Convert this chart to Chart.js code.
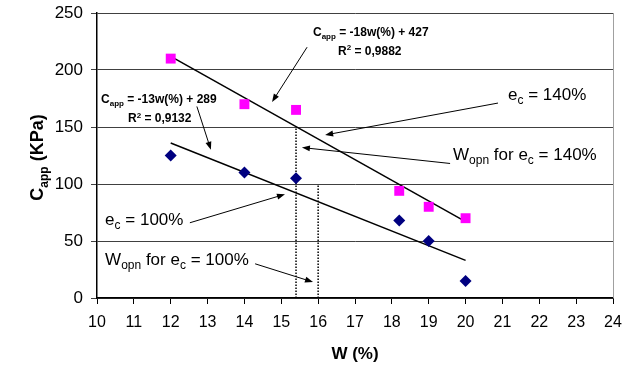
<!DOCTYPE html>
<html>
<head>
<meta charset="utf-8">
<script src="https://cdn.jsdelivr.net/npm/chart.js@4"></script>
<style>
  html, body { margin: 0; padding: 0; background: #fff; }
  #wrap { width: 628px; height: 365px; }
</style>
</head>
<body>
<div id="wrap"><canvas id="chart" width="628" height="365"></canvas></div>
<script>
// measured points
const wValues = [12, 14, 15.4, 18.2, 19, 20];
const capp140 = [210, 170, 165, 94, 80, 70];
const capp100 = [125, 110, 105, 68, 50, 15];

// trend line ends
const trendW = [12, 20];
const trend140 = [212, 67];
const trend100 = [136, 33];

// W_opn dotted markers
const wopnW = [15.4, 16];
const wopnTop = [150, 100];

const xTicks = [10, 11, 12, 13, 14, 15, 16, 17, 18, 19, 20, 21, 22, 23, 24];
const yTicks = [0, 50, 100, 150, 200, 250];

const FONT = "'Liberation Sans', Arial, sans-serif";

// annotations in data units: text parts, anchor and arrow [from, to]
const notes = [
  { parts: [["C", ""], ["app", "sub"], [" = -18w(%) + 427", ""]], at: [15.86, 230], bold: true, size: 12 },
  { parts: [["R", ""], ["2", "sup"], [" = 0,9882", ""]], at: [16.54, 213], bold: true, size: 12 },
  { parts: [["C", ""], ["app", "sub"], [" = -13w(%) + 289", ""]], at: [10.11, 171], bold: true, size: 12 },
  { parts: [["R", ""], ["2", "sup"], [" = 0,9132", ""]], at: [10.84, 154], bold: true, size: 12 },
  { parts: [["e", ""], ["c", "sub"], [" = 140%", ""]], at: [21.15, 174], size: 17 },
  { parts: [["W", ""], ["opn", "sub"], [" for e", ""], ["c", "sub"], [" = 140%", ""]], at: [19.66, 121], size: 17 },
  { parts: [["e", ""], ["c", "sub"], [" = 100%", ""]], at: [10.22, 64], size: 17 },
  { parts: [["W", ""], ["opn", "sub"], [" for e", ""], ["c", "sub"], [" = 100%", ""]], at: [10.22, 29], size: 17 }
];
const arrows = [
  [[15.70, 220], [14.75, 172]],
  [[12.71, 168], [13.09, 130]],
  [[20.88, 171], [16.19, 143]],
  [[19.58, 118], [15.56, 132]],
  [[12.52, 66], [15.10, 91]],
  [[14.29, 30], [15.86, 14]]
];

function drawRich(ctx, parts, x, y, size, bold) {
  let cx = x;
  parts.forEach(([t, kind]) => {
    const s = kind ? Math.round(size * 0.68) : size;
    ctx.font = (bold ? "bold " : "") + s + "px " + FONT;
    let dy = 0;
    if (kind === "sub") dy = size * 0.25;
    if (kind === "sup") dy = -size * 0.4;
    ctx.fillText(t, cx, y + dy);
    cx += ctx.measureText(t).width;
  });
}

function drawArrow(ctx, x1, y1, x2, y2) {
  const ang = Math.atan2(y2 - y1, x2 - x1);
  const len = 8, half = 3;
  ctx.beginPath();
  ctx.moveTo(x1, y1);
  ctx.lineTo(x2 - Math.cos(ang) * len * 0.8, y2 - Math.sin(ang) * len * 0.8);
  ctx.stroke();
  ctx.beginPath();
  ctx.moveTo(x2, y2);
  ctx.lineTo(x2 - Math.cos(ang) * len - Math.sin(ang) * half, y2 - Math.sin(ang) * len + Math.cos(ang) * half);
  ctx.lineTo(x2 - Math.cos(ang) * len + Math.sin(ang) * half, y2 - Math.sin(ang) * len - Math.cos(ang) * half);
  ctx.closePath();
  ctx.fill();
}

const notesPlugin = {
  id: "notes",
  afterDatasetsDraw(chart) {
    const ctx = chart.ctx;
    const xs = chart.scales.x, ys = chart.scales.y;
    const area = chart.chartArea;
    ctx.save();
    // right border of plot area
    ctx.strokeStyle = "#a0a0a0";
    ctx.lineWidth = 1;
    ctx.beginPath();
    ctx.moveTo(area.right + 0.5, area.top);
    ctx.lineTo(area.right + 0.5, area.bottom);
    ctx.stroke();

    ctx.fillStyle = "#000";
    ctx.strokeStyle = "#000";
    ctx.textBaseline = "alphabetic";
    notes.forEach(n => {
      drawRich(ctx, n.parts, xs.getPixelForValue(n.at[0]), ys.getPixelForValue(n.at[1]), n.size, n.bold);
    });
    ctx.lineWidth = 1;
    arrows.forEach(([a, b]) => {
      drawArrow(ctx, xs.getPixelForValue(a[0]), ys.getPixelForValue(a[1]),
        xs.getPixelForValue(b[0]), ys.getPixelForValue(b[1]));
    });

    // y axis title with subscript
    ctx.translate(36, (area.top + area.bottom) / 2 + 2);
    ctx.rotate(-Math.PI / 2);
    const parts = [["C", ""], ["app", "sub"], [" (KPa)", ""]];
    let w = 0;
    parts.forEach(([t, k]) => {
      ctx.font = "bold " + (k ? 12 : 18) + "px " + FONT;
      w += ctx.measureText(t).width;
    });
    drawRich(ctx, parts, -w / 2, 7, 18, true);
    ctx.restore();
  }
};

const pairs = (xv, yv) => xv.map((x, i) => ({ x: x, y: yv[i] }));

const config = {
  type: "scatter",
  data: {
    datasets: [
      {
        label: "e_c = 140%",
        data: pairs(wValues, capp140),
        pointStyle: "rect",
        pointRadius: 7,
        backgroundColor: "#ff00ff",
        borderColor: "#ff00ff",
        borderWidth: 0
      },
      {
        label: "e_c = 100%",
        data: pairs(wValues, capp100),
        pointStyle: "rectRot",
        pointRadius: 6,
        backgroundColor: "#000080",
        borderColor: "#000080",
        borderWidth: 0
      },
      {
        type: "line",
        label: "trend 140",
        data: pairs(trendW, trend140),
        borderColor: "#000",
        borderWidth: 1.5,
        pointRadius: 0,
        fill: false
      },
      {
        type: "line",
        label: "trend 100",
        data: pairs(trendW, trend100),
        borderColor: "#000",
        borderWidth: 1.5,
        pointRadius: 0,
        fill: false
      },
      {
        type: "line",
        label: "Wopn 140",
        data: [{ x: wopnW[0], y: 0 }, { x: wopnW[0], y: wopnTop[0] }],
        borderColor: "#000",
        borderWidth: 1.5,
        borderDash: [1.5, 1.5],
        pointRadius: 0,
        fill: false
      },
      {
        type: "line",
        label: "Wopn 100",
        data: [{ x: wopnW[1], y: 0 }, { x: wopnW[1], y: wopnTop[1] }],
        borderColor: "#000",
        borderWidth: 1.5,
        borderDash: [1.5, 1.5],
        pointRadius: 0,
        fill: false
      }
    ]
  },
  options: {
    responsive: false,
    animation: false,
    layout: { padding: { top: 13, right: 15, left: 0, bottom: 0 } },
    plugins: {
      legend: { display: false },
      tooltip: { enabled: false }
    },
    scales: {
      x: {
        type: "linear",
        min: 10,
        max: 24,
        afterBuildTicks: (s) => { s.ticks = xTicks.map(v => ({ value: v })); },
        afterFit: (s) => { s.height = 67; },
        border: { color: "#000", width: 1.5 },
        grid: { drawOnChartArea: false, drawTicks: true, tickLength: 6, color: "#000" },
        ticks: { color: "#000", font: { family: FONT, size: 16, lineHeight: 2.3 }, padding: 0, maxRotation: 0 },
        title: {
          display: true,
          text: "W (%)",
          color: "#000",
          font: { family: FONT, size: 17, weight: "bold" },
          padding: { top: 4, bottom: 0 }
        }
      },
      y: {
        type: "linear",
        min: 0,
        max: 250,
        afterBuildTicks: (s) => { s.ticks = yTicks.map(v => ({ value: v })); },
        afterFit: (s) => { s.width = 97; },
        border: { color: "#000", width: 1.5 },
        grid: { color: "#404040", lineWidth: 1, tickLength: 6 },
        ticks: { color: "#000", font: { family: FONT, size: 17, lineHeight: 0.5 }, padding: 8 }
      }
    }
  },
  plugins: [notesPlugin]
};

const chart = new Chart(document.getElementById("chart"), config);
</script>
</body>
</html>
